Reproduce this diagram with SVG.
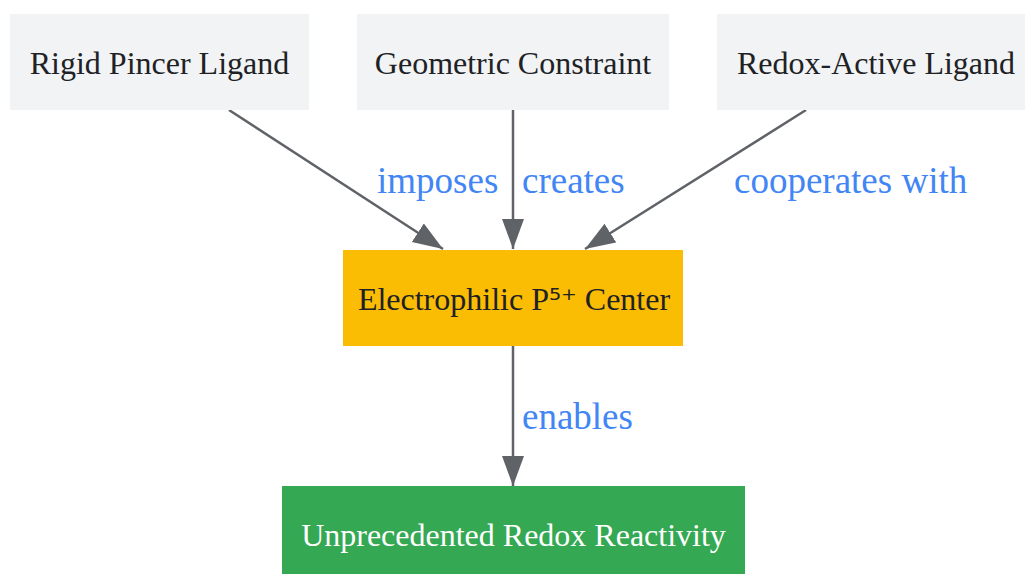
<svg xmlns="http://www.w3.org/2000/svg" width="1025" height="574" viewBox="0 0 1025 574">
<style>
.n{font-family:"Liberation Serif","Times New Roman",serif;font-size:32px;text-anchor:middle;fill:#202124}
.l{font-family:"Liberation Serif","Times New Roman",serif;font-size:37px;fill:#4285f4}
.e{stroke:#5f6368;stroke-width:2.5;fill:none;marker-end:url(#ah)}
</style>
<defs>
<marker id="ah" markerUnits="userSpaceOnUse" markerWidth="32" markerHeight="24" refX="30" refY="11" orient="auto">
<path d="M0,0 L30,11 L0,22 Z" fill="#5f6368"/>
</marker>
</defs>
<rect width="1025" height="574" fill="#ffffff"/>
<g id="connectors">
<path class="e" d="M229,110 L443,249"/>
<path class="e" d="M513,110 L513,249"/>
<path class="e" d="M806,110 L585,249"/>
<path class="e" d="M513,346 L513,486"/>
<text class="l" x="377" y="193">imposes</text>
<text class="l" x="522" y="193">creates</text>
<text class="l" x="734" y="193">cooperates with</text>
<text class="l" x="522" y="429">enables</text>
</g>
<g id="rigid">
<rect x="10" y="14" width="299" height="96" fill="#f1f3f4"/>
<text class="n" x="159.5" y="74">Rigid Pincer Ligand</text>
</g>
<g id="geometric">
<rect x="357" y="14" width="312" height="96" fill="#f1f3f4"/>
<text class="n" x="513" y="74">Geometric Constraint</text>
</g>
<g id="redox">
<rect x="717" y="14" width="308" height="96" fill="#f1f3f4"/>
<text class="n" x="876" y="74">Redox-Active Ligand</text>
</g>
<g id="center">
<rect x="343" y="250" width="340" height="96" fill="#fbbc04"/>
<text class="n" x="514" y="310">Electrophilic P<tspan font-family="DejaVu Sans, sans-serif" font-size="30">⁵⁺</tspan> Center</text>
</g>
<g id="reactivity">
<rect x="282" y="486" width="463" height="88" fill="#34a853"/>
<text class="n" x="513.5" y="546" style="fill:#ffffff">Unprecedented Redox Reactivity</text>
</g>
</svg>
